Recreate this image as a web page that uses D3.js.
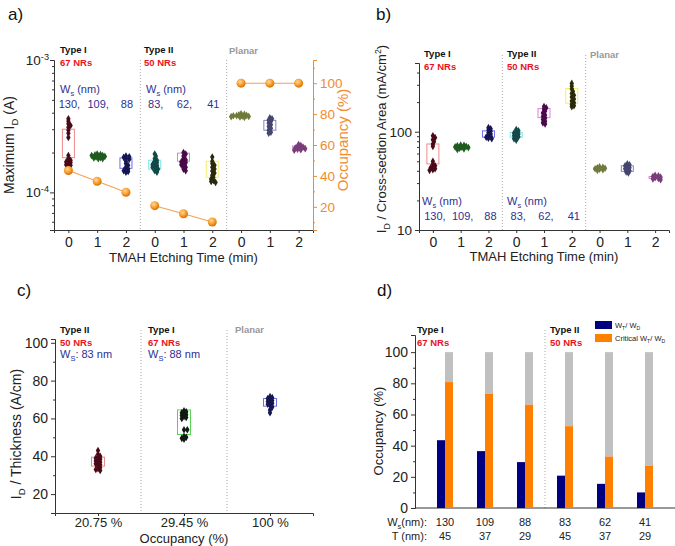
<!DOCTYPE html>
<html><head><meta charset="utf-8">
<script src="https://cdn.jsdelivr.net/npm/d3@7"></script>
<style>body{margin:0;background:#fff}svg{display:block}text{font-family:Arial,"Liberation Sans",sans-serif}</style>
</head><body><svg id="c" width="675" height="546"></svg>
<script>
// ---------------- DATA ----------------
const timeLabels = ["0","1","2","0","1","2","0","1","2"];
const wsTypeI = ["130,","109,","88"];
const wsTypeII = ["83,","62,","41"];
// panel a: maximum ID (units of 1e-4 A) for each of the 9 groups
const maxId_T1_0 = [3.6,3.45,3.3,3.2,3.1,2.95,2.8,2.6,1.9,1.8,1.75,1.72,1.7,1.68,1.65,1.62,1.6,1.58];
const maxId_T1_1 = [1.95,1.93,1.92,1.9,1.9,1.88,1.87,1.85,1.83,1.82,1.8,1.8];
const maxId_T1_2 = [1.88,1.86,1.84,1.8,1.78,1.72,1.65,1.6,1.55,1.5,1.48,1.46,1.44,1.42];
const maxId_T2_0 = [1.95,1.88,1.8,1.75,1.72,1.68,1.65,1.62,1.6,1.58,1.55,1.52,1.5,1.46,1.42];
const maxId_T2_1 = [2.0,1.95,1.88,1.8,1.76,1.72,1.7,1.68,1.65,1.62,1.58,1.55,1.5,1.46];
const maxId_T2_2 = [1.85,1.72,1.65,1.6,1.55,1.5,1.45,1.4,1.35,1.3,1.26,1.23,1.21,1.19];
const maxId_P_0 = [3.92,3.88,3.85,3.82,3.8,3.79,3.77,3.75,3.73,3.71,3.69];
const maxId_P_1 = [3.65,3.6,3.52,3.45,3.35,3.25,3.15,3.05,2.95,2.85,2.8];
const maxId_P_2 = [2.3,2.26,2.22,2.2,2.18,2.16,2.14,2.12,2.1,2.08];
const maxIdBoxLow  = [1.83,1.82,1.52,1.5,1.72,1.3,3.72,2.95,2.12];
const maxIdBoxHigh = [3.0,1.92,1.82,1.75,1.98,1.72,3.86,3.5,2.24];
const occupancyA = [43.5,36.5,29.45,20.75,15.5,10.2,100,100,100];
// panel b: ID / cross-section area (mA/cm2)
const area_T1_0 = [91,87,83,79,75,71,50,47,45,44,43,42,41,40.5];
const area_T1_1 = [73,72.5,72,71,70,69.5,69,68,67,66];
const area_T1_2 = [110,107,104,101,98,95,92,90,88,86,85];
const area_T2_0 = [105,102,99,97,95,93,91,89,87,85,82];
const area_T2_1 = [180,175,170,162,155,148,143,138,133,128,123,120];
const area_T2_2 = [310,290,272,258,245,235,225,215,205,197,190,184,180];
const area_P_0 = [44,43.5,43,42.5,42,41.5,41,40.5];
const area_P_1 = [47,46,45,44,43,42,41,40,39,38];
const area_P_2 = [36,35.5,35,34.5,34,33.5,33,32.5];
const areaBoxLow  = [47,67.5,88,88,139,195,41,39.5,33.5];
const areaBoxHigh = [75,71.5,102,98,172,275,43,45,35];
// panel c: ID / thickness (A/cm)
const occLabels = ["20.75 %","29.45 %","100 %"];
const thick_0 = [43,41,40,39.5,39,38.5,38,37.5,37,36.5,36,35.5,35,34,33.5,33,32.5];
const thick_1 = [64,63.5,63,62.5,62,61.5,61,60.5,60,54,54,50.5,50,49.5,49];
const thick_2 = [71.5,71,70.5,70,69.5,69,68.5,68,67.5,67,66,64.5,63];
const thickBoxLow = [34.8,51.5,66.5];
const thickBoxHigh = [39.5,64.5,70.5];
// panel d: occupancy bars
const wsD = ["130","109","88","83","62","41"];
const tD = ["45","37","29","45","37","29"];
const wtwd = [43.5,36.5,29.45,20.75,15.5,10];
const critWtwd = [80.8,73.2,66.3,52.5,33,27];

// ---------------- STYLE ----------------
const FONT = 'Arial,"Liberation Sans",sans-serif';
const AX = "#333";
const ORANGE = "#f28a2e";
const BLUE = "#2e3192";
const RED = "#e8141e";
const boxColors = ["#f08a8a","#55d655","#6b6bf0","#7fe3e3","#e27ee2","#f2f06a","#b5b575","#8585c0","#c58ac5"];
const ptColors  = ["#4a0a18","#1f5a1f","#15154f","#124a4a","#4a0a48","#2a2a08","#6f7a3c","#45456f","#7a3c7a"];

const svg = d3.select("#c");
const diamond = d3.symbol().type(d3.symbolDiamond).size(17);

function styleAxis(g, color, fs) {
  g.select(".domain").attr("stroke", color);
  g.selectAll(".tick line").attr("stroke", color);
  g.selectAll(".tick text").attr("fill", color === AX ? "#222" : color).style("font-family", FONT).style("font-size", fs + "px");
}
function txt(x, y, s, o = {}) {
  const t = svg.append("text").attr("x", x).attr("y", y).text(s)
    .style("font-size", (o.fs || 11) + "px").attr("fill", o.fill || "#111");
  if (o.bold) t.style("font-weight", "bold");
  if (o.anchor) t.attr("text-anchor", o.anchor);
  return t;
}
function rich(x, y, parts, o = {}) {
  const t = svg.append("text").attr("x", x).attr("y", y)
    .style("font-size", (o.fs || 11) + "px").attr("fill", o.fill || "#111")
    .attr("text-anchor", o.anchor || "start");
  if (o.rot) t.attr("transform", `rotate(${o.rot},${x},${y})`);
  if (o.bold) t.style("font-weight", "bold");
  const fs = o.fs || 11;
  let shift = 0;
  parts.forEach(([s, k]) => {
    const want = k === "sub" ? fs * 0.3 : k === "sup" ? -fs * 0.4 : 0;
    const sp = t.append("tspan").text(s).attr("dy", want - shift);
    if (k !== "n") sp.style("font-size", (fs * 0.68) + "px");
    shift = want;
  });
  return t;
}
function swarm(vals, yS, cx, step, rad) {
  const pts = vals.map(v => ({ v, y: yS(v) })).sort((a, b) => a.y - b.y);
  const placed = [];
  pts.forEach(p => {
    for (let k = 0; k < 60; k++) {
      const off = k === 0 ? 0 : (k % 2 ? 1 : -1) * Math.ceil(k / 2) * step;
      if (placed.every(q => Math.hypot(q.x - (cx + off), q.y - p.y) >= rad)) { p.x = cx + off; placed.push(p); break; }
    }
  });
  return placed;
}
function drawPts(vals, yS, cx, color) {
  swarm(vals, yS, cx, 1.1, 2.3).forEach(p => {
    svg.append("path").attr("d", diamond).attr("transform", `translate(${p.x},${p.y})`).attr("fill", color);
  });
}
function drawGroup(vals, yS, cx, lo, hi, i, boxW) {
  svg.append("rect").attr("x", cx - boxW / 2).attr("width", boxW)
    .attr("y", yS(hi)).attr("height", yS(lo) - yS(hi))
    .attr("fill", "#fff").attr("fill-opacity", 0.3).attr("stroke", boxColors[i]).attr("stroke-width", 1);
  drawPts(vals, yS, cx, ptColors[i]);
}
function divider(x, y0, y1) {
  svg.append("line").attr("x1", x).attr("x2", x).attr("y1", y0).attr("y2", y1)
    .attr("stroke", "#aaa").attr("stroke-width", 1).attr("stroke-dasharray", "1,2");
}
function header(x, y, type, nrs) {
  txt(x, y, type, { bold: true, fs: 9.5, fill: "#111" });
  if (nrs) txt(x, y + 12.5, nrs, { bold: true, fs: 9.5, fill: RED });
}

const defs = svg.append("defs");
const rg = defs.append("radialGradient").attr("id", "ball").attr("cx", "40%").attr("cy", "35%").attr("r", "65%");
rg.append("stop").attr("offset", "0%").attr("stop-color", "#ffd9a0");
rg.append("stop").attr("offset", "55%").attr("stop-color", "#f8a030");
rg.append("stop").attr("offset", "100%").attr("stop-color", "#d86e00");

// ---------------- PANEL A ----------------
{
  const P = { x0: 54, x1: 313, y0: 60, y1: 230 };
  const x = d3.scaleLinear().domain([-0.5, 8.5]).range([P.x0, P.x1]);
  const y = d3.scaleLog().domain([5.2e-5, 1e-3]).range([P.y1, P.y0]);
  const y2 = d3.scaleLinear().domain([5, 115]).range([P.y1, P.y0]);
  const sets = [maxId_T1_0, maxId_T1_1, maxId_T1_2, maxId_T2_0, maxId_T2_1, maxId_T2_2, maxId_P_0, maxId_P_1, maxId_P_2];

  divider(x(2.5), P.y0, P.y1); divider(x(5.5), P.y0, P.y1);

  const gb = svg.append("g").attr("transform", `translate(0,${P.y1})`)
    .call(d3.axisBottom(x).tickValues(d3.range(9)).tickFormat((d, i) => timeLabels[i]).tickSize(3).tickPadding(4));
  styleAxis(gb, AX, 14);
  const gl = svg.append("g").attr("transform", `translate(${P.x0},0)`)
    .call(d3.axisLeft(y).tickValues([1e-4, 1e-3]).tickFormat("").tickSize(4));
  styleAxis(gl, AX, 13);
  const glm = svg.append("g").attr("transform", `translate(${P.x0},0)`)
    .call(d3.axisLeft(y).tickValues([6e-5, 7e-5, 8e-5, 9e-5, 2e-4, 3e-4, 4e-4, 5e-4, 6e-4, 7e-4, 8e-4, 9e-4]).tickFormat("").tickSize(2));
  styleAxis(glm, AX, 13); glm.select(".domain").remove();
  [[1e-4, "-4"], [1e-3, "-3"]].forEach(([v, e]) => {
    rich(P.x0 - 5, y(v) + 5, [["10", "n"], [e, "sup"]], { fs: 13.5, anchor: "end", fill: "#222" });
  });
  const gr = svg.append("g").attr("transform", `translate(${P.x1},0)`)
    .call(d3.axisRight(y2).tickValues([20, 40, 60, 80, 100]).tickSize(4).tickPadding(3));
  styleAxis(gr, ORANGE, 13.5);
  const grm = svg.append("g").attr("transform", `translate(${P.x1},0)`)
    .call(d3.axisRight(y2).tickValues([10, 30, 50, 70, 90, 110]).tickFormat("").tickSize(2));
  styleAxis(grm, ORANGE, 13); grm.select(".domain").remove();

  sets.forEach((s, i) => drawGroup(s.map(v => v * 1e-4), y, x(i), maxIdBoxLow[i] * 1e-4, maxIdBoxHigh[i] * 1e-4, i, 12));

  [[0, 3], [3, 6], [6, 9]].forEach(([a, b]) => {
    const seg = d3.range(a, b);
    svg.append("path").attr("d", d3.line().x(i => x(i)).y(i => y2(occupancyA[i]))(seg))
      .attr("fill", "none").attr("stroke", "#f5a055").attr("stroke-width", 1.1);
    seg.forEach(i => svg.append("circle").attr("cx", x(i)).attr("cy", y2(occupancyA[i])).attr("r", 4.5).attr("fill", "url(#ball)"));
  });

  header(60, 53, "Type I", "67 NRs");
  header(144, 53, "Type II", "50 NRs");
  txt(229, 54, "Planar", { bold: true, fs: 9.5, fill: "#999" });
  rich(60, 93, [["W", "n"], ["s", "sub"], [" (nm)", "n"]], { fs: 11, fill: BLUE });
  rich(146, 93, [["W", "n"], ["s", "sub"], [" (nm)", "n"]], { fs: 11, fill: BLUE });
  wsTypeI.forEach((s, i) => txt(x(i) + 1, 108, s, { fs: 11, fill: BLUE, anchor: "middle" }));
  wsTypeII.forEach((s, i) => txt(x(i + 3) + 1, 108, s, { fs: 11, fill: BLUE, anchor: "middle" }));

  txt((P.x0 + P.x1) / 2, 262, "TMAH Etching Time (min)", { fs: 13, anchor: "middle", fill: "#222" });
  rich(14, 145, [["Maximum I", "n"], ["D", "sub"], [" (A)", "n"]], { fs: 14, anchor: "middle", rot: -90, fill: "#222" });
  txt(348, 140, "Occupancy (%)", { fs: 15, anchor: "middle", fill: ORANGE }).attr("transform", "rotate(-90,348,140)");
  txt(8, 20, "a)", { fs: 17, fill: "#111" });
}

// ---------------- PANEL B ----------------
{
  const P = { x0: 419, x1: 669, y0: 63, y1: 230 };
  const x = d3.scaleLinear().domain([-0.5, 8.5]).range([P.x0, P.x1]);
  const y = d3.scaleLog().domain([10, 500]).range([P.y1, P.y0]);
  const sets = [area_T1_0, area_T1_1, area_T1_2, area_T2_0, area_T2_1, area_T2_2, area_P_0, area_P_1, area_P_2];

  divider(x(2.5), 55, P.y1); divider(x(5.5), 55, P.y1);
  const gb = svg.append("g").attr("transform", `translate(0,${P.y1})`)
    .call(d3.axisBottom(x).tickValues(d3.range(9)).tickFormat((d, i) => timeLabels[i]).tickSize(3).tickPadding(4));
  styleAxis(gb, AX, 14);
  const gl = svg.append("g").attr("transform", `translate(${P.x0},0)`)
    .call(d3.axisLeft(y).tickValues([10, 100]).tickFormat(d3.format("d")).tickSize(4).tickPadding(3));
  styleAxis(gl, AX, 13.5);
  const glm = svg.append("g").attr("transform", `translate(${P.x0},0)`)
    .call(d3.axisLeft(y).tickValues([20, 30, 40, 50, 60, 70, 80, 90, 200, 300, 400]).tickFormat("").tickSize(2));
  styleAxis(glm, AX, 13); glm.select(".domain").remove();

  sets.forEach((s, i) => drawGroup(s, y, x(i), areaBoxLow[i], areaBoxHigh[i], i, 12));

  header(424, 57, "Type I", "67 NRs");
  header(507, 57, "Type II", "50 NRs");
  txt(590, 58, "Planar", { bold: true, fs: 9.5, fill: "#999" });
  rich(422, 205, [["W", "n"], ["s", "sub"], [" (nm)", "n"]], { fs: 11, fill: BLUE });
  rich(507, 205, [["W", "n"], ["s", "sub"], [" (nm)", "n"]], { fs: 11, fill: BLUE });
  wsTypeI.forEach((s, i) => txt(x(i) + 2, 220, s, { fs: 11, fill: BLUE, anchor: "middle" }));
  wsTypeII.forEach((s, i) => txt(x(i + 3) + 2, 220, s, { fs: 11, fill: BLUE, anchor: "middle" }));

  txt((P.x0 + P.x1) / 2, 261, "TMAH Etching Time (min)", { fs: 13, anchor: "middle", fill: "#222" });
  rich(386, 139, [["I", "n"], ["D", "sub"], [" / Cross-section Area (mA/cm", "n"], ["2", "sup"], [")", "n"]], { fs: 13, anchor: "middle", rot: -90, fill: "#222" });
  txt(376, 20, "b)", { fs: 17, fill: "#111" });
}

// ---------------- PANEL C ----------------
{
  const P = { x0: 55, x1: 313, y0: 339, y1: 513 };
  const x = d3.scaleLinear().domain([-0.5, 2.5]).range([P.x0, P.x1]);
  const y = d3.scaleLinear().domain([10, 102]).range([P.y1, P.y0]);
  const sets = [thick_0, thick_1, thick_2];

  divider(x(0.5), 330, P.y1); divider(x(1.5), 330, P.y1);
  const gb = svg.append("g").attr("transform", `translate(0,${P.y1})`)
    .call(d3.axisBottom(x).tickValues([0, 1, 2]).tickFormat((d, i) => occLabels[i]).tickSize(3).tickPadding(2));
  styleAxis(gb, AX, 13);
  const gl = svg.append("g").attr("transform", `translate(${P.x0},0)`)
    .call(d3.axisLeft(y).tickValues([20, 40, 60, 80, 100]).tickSize(4).tickPadding(3));
  styleAxis(gl, AX, 14);
  const glm = svg.append("g").attr("transform", `translate(${P.x0},0)`)
    .call(d3.axisLeft(y).tickValues([30, 50, 70, 90]).tickFormat("").tickSize(2));
  styleAxis(glm, AX, 13); glm.select(".domain").remove();

  const cBox = ["#f08a8a", "#55d655", "#6b6bf0"];
  const cPt = ["#4a0a18", "#111a11", "#15154f"];
  sets.forEach((s, i) => {
    svg.append("rect").attr("x", x(i) - 6.5).attr("width", 13).attr("y", y(thickBoxHigh[i]))
      .attr("height", y(thickBoxLow[i]) - y(thickBoxHigh[i])).attr("fill", "#fff").attr("fill-opacity", 0.3)
      .attr("stroke", cBox[i]);
    drawPts(s, y, x(i), cPt[i]);
  });

  header(60, 333, "Type II", "50 NRs");
  header(148, 333, "Type I", "67 NRs");
  txt(235, 333, "Planar", { bold: true, fs: 9.5, fill: "#999" });
  rich(60, 358, [["W", "n"], ["S", "sub"], [": 83 nm", "n"]], { fs: 11, fill: BLUE });
  rich(148, 358, [["W", "n"], ["S", "sub"], [": 88 nm", "n"]], { fs: 11, fill: BLUE });

  txt((P.x0 + P.x1) / 2, 543, "Occupancy (%)", { fs: 13, anchor: "middle", fill: "#222" });
  rich(21, 434, [["I", "n"], ["D", "sub"], [" / Thickness (A/cm)", "n"]], { fs: 14, anchor: "middle", rot: -90, fill: "#222" });
  txt(17, 296, "c)", { fs: 17, fill: "#111" });
}

// ---------------- PANEL D ----------------
{
  const P = { x0: 415, x1: 675, y0: 335, y1: 508 };
  const x = d3.scaleLinear().domain([-0.75, 5.75]).range([P.x0, P.x1]);
  const y = d3.scaleLinear().domain([0, 111]).range([P.y1, P.y0]);
  const bw = 8;

  divider(x(2.5), 330, P.y1);
  svg.append("line").attr("x1", P.x0).attr("x2", P.x1).attr("y1", P.y1).attr("y2", P.y1).attr("stroke", AX);
  const gl = svg.append("g").attr("transform", `translate(${P.x0},0)`)
    .call(d3.axisLeft(y).tickValues([0, 20, 40, 60, 80, 100]).tickSize(4).tickPadding(3));
  styleAxis(gl, AX, 14);
  const glm = svg.append("g").attr("transform", `translate(${P.x0},0)`)
    .call(d3.axisLeft(y).tickValues([10, 30, 50, 70, 90]).tickFormat("").tickSize(2));
  styleAxis(glm, AX, 13); glm.select(".domain").remove();

  critWtwd.forEach((v, i) => {
    svg.append("rect").attr("x", x(i)).attr("width", bw).attr("y", y(100)).attr("height", y(v) - y(100)).attr("fill", "#c0c0c0");
    svg.append("rect").attr("x", x(i)).attr("width", bw).attr("y", y(v)).attr("height", y(0) - y(v)).attr("fill", "#ff8000");
  });
  wtwd.forEach((v, i) => {
    svg.append("rect").attr("x", x(i) - bw).attr("width", bw).attr("y", y(v)).attr("height", y(0) - y(v)).attr("fill", "#000080");
  });

  header(417, 333, "Type I", "67 NRs");
  header(550, 333, "Type II", "50 NRs");

  svg.append("rect").attr("x", 595).attr("y", 321).attr("width", 17).attr("height", 8).attr("fill", "#000080");
  svg.append("rect").attr("x", 595).attr("y", 334).attr("width", 17).attr("height", 8).attr("fill", "#ff8000");
  rich(615, 328, [["W", "n"], ["T", "sub"], ["/ W", "n"], ["D", "sub"]], { fs: 7.5, fill: "#222" });
  rich(615, 341, [["Critical W", "n"], ["T", "sub"], ["/ W", "n"], ["D", "sub"]], { fs: 7.5, fill: "#222" });

  rich(427, 526, [["W", "n"], ["s", "sub"], ["(nm):", "n"]], { fs: 11, anchor: "end", fill: "#222" });
  txt(427, 540, "T (nm):", { fs: 11, anchor: "end", fill: "#222" });
  wsD.forEach((s, i) => txt(x(i), 526, s, { fs: 11, anchor: "middle", fill: "#222" }));
  tD.forEach((s, i) => txt(x(i), 540, s, { fs: 11, anchor: "middle", fill: "#222" }));

  rich(383, 431, [["Occupancy (%)", "n"]], { fs: 13, anchor: "middle", rot: -90, fill: "#222" });
  txt(377, 296, "d)", { fs: 17, fill: "#111" });
}
</script></body></html>
